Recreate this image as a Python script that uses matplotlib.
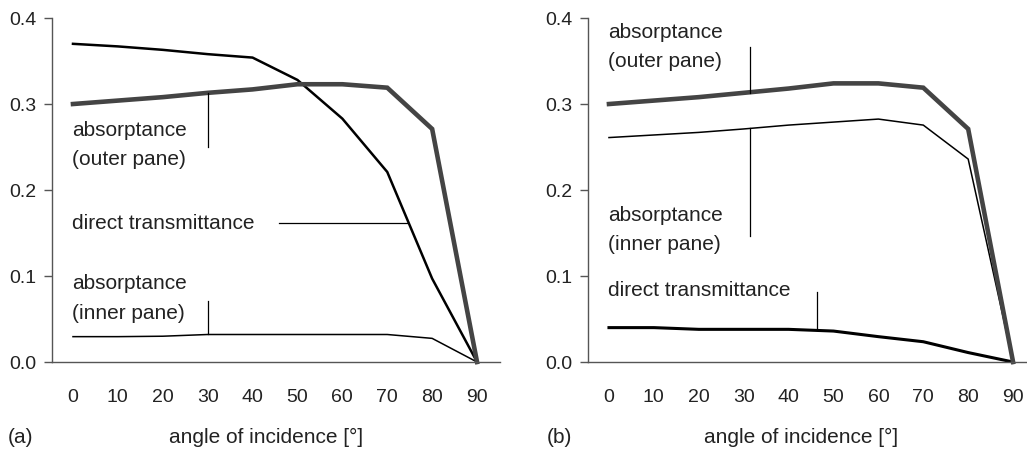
import matplotlib.pyplot as plt

plt.rcParams['font.family'] = ['Liberation Sans', 'DejaVu Sans']

angle = [0, 10, 20, 30, 40, 50, 60, 70, 80, 90]

# panel (a)
outer_a = [0.300, 0.304, 0.308, 0.313, 0.317, 0.323, 0.323, 0.319, 0.271, 0.0]
direct_a = [0.370, 0.367, 0.363, 0.358, 0.354, 0.328, 0.283, 0.221, 0.097, 0.0]
inner_a = [0.0295, 0.0295, 0.030, 0.032, 0.032, 0.032, 0.032, 0.032, 0.0275, 0.0]

# panel (b)
outer_b = [0.300, 0.304, 0.308, 0.313, 0.318, 0.324, 0.324, 0.319, 0.271, 0.0]
inner_b = [0.261, 0.264, 0.267, 0.271, 0.2755, 0.279, 0.2825, 0.2755, 0.236, 0.0]
direct_b = [0.040, 0.040, 0.038, 0.038, 0.038, 0.036, 0.0295, 0.0236, 0.011, 0.0]

yticks = [0.0, 0.1, 0.2, 0.3, 0.4]

txt = '#222222'
axc = '#555555'
fs = 15

fig = plt.figure(figsize=(10.27, 4.54), dpi=100)
ax_a = fig.add_axes([0.0506, 0.2026, 0.4362, 0.7577])
ax_b = fig.add_axes([0.5725, 0.2026, 0.4275, 0.7577])


def style(ax, xmax):
    ax.set_xlim(-4.68, xmax)
    ax.set_ylim(0, 0.4)
    ax.set_xticks(angle)
    ax.set_yticks(yticks)
    ax.set_yticklabels(['%.1f' % v for v in yticks])
    for s in ['top', 'right']:
        ax.spines[s].set_visible(False)
    for s in ['left', 'bottom']:
        ax.spines[s].set_color(axc)
        ax.spines[s].set_linewidth(1)
    ax.tick_params(axis='x', length=0, pad=19.5, labelsize=14, labelcolor=txt)
    ax.tick_params(axis='y', length=6, width=1, color=axc, pad=5,
                   labelsize=14, labelcolor=txt)
    ax.patch.set_alpha(0)


style(ax_a, 95.1)
style(ax_b, 93.1)

# panel (a) curves
ax_a.plot(angle, inner_a, color='black', lw=1.1, clip_on=False)
ax_a.plot(angle, direct_a, color='black', lw=1.8, clip_on=False)
ax_a.plot(angle, outer_a, color='#444444', lw=3.3, clip_on=False,
          solid_joinstyle='miter')

lk = dict(color='black', lw=0.9)
ax_a.plot([30, 30], [0.250, 0.313], **lk)
ax_a.plot([45.9, 74.4], [0.1616, 0.1616], **lk)
ax_a.plot([30, 30], [0.071, 0.032], **lk)

tk = dict(fontsize=fs, color=txt, ha='left', va='center', linespacing=1.68)
ax_a.text(-0.2, 0.252, 'absorptance\n(outer pane)', **tk)
ax_a.text(-0.2, 0.1616, 'direct transmittance', **tk)
ax_a.text(-0.2, 0.0738, 'absorptance\n(inner pane)', **tk)

# panel (b) curves
ax_b.plot(angle, direct_b, color='black', lw=2.2, clip_on=False)
ax_b.plot(angle, inner_b, color='black', lw=1.1, clip_on=False)
ax_b.plot(angle, outer_b, color='#444444', lw=3.3, clip_on=False,
          solid_joinstyle='miter')

ax_b.plot([31.5, 31.5], [0.366, 0.313], **lk)
ax_b.plot([31.5, 31.5], [0.272, 0.147], **lk)
ax_b.plot([46.3, 46.3], [0.0818, 0.037], **lk)

ax_b.text(-0.2, 0.366, 'absorptance\n(outer pane)', **tk)
ax_b.text(-0.2, 0.1535, 'absorptance\n(inner pane)', **tk)
ax_b.text(-0.2, 0.0826, 'direct transmittance', **tk)

# panel letters and x labels
fig.text(8 / 1027, 0.0374, '(a)', fontsize=fs, color=txt, ha='left', va='center')
fig.text(547 / 1027, 0.0374, '(b)', fontsize=fs, color=txt, ha='left', va='center')
fig.text(266 / 1027, 0.0374, 'angle of incidence [°]', fontsize=fs, color=txt,
         ha='center', va='center')
fig.text(801 / 1027, 0.0374, 'angle of incidence [°]', fontsize=fs, color=txt,
         ha='center', va='center')

fig.savefig('out.png', dpi=100)
